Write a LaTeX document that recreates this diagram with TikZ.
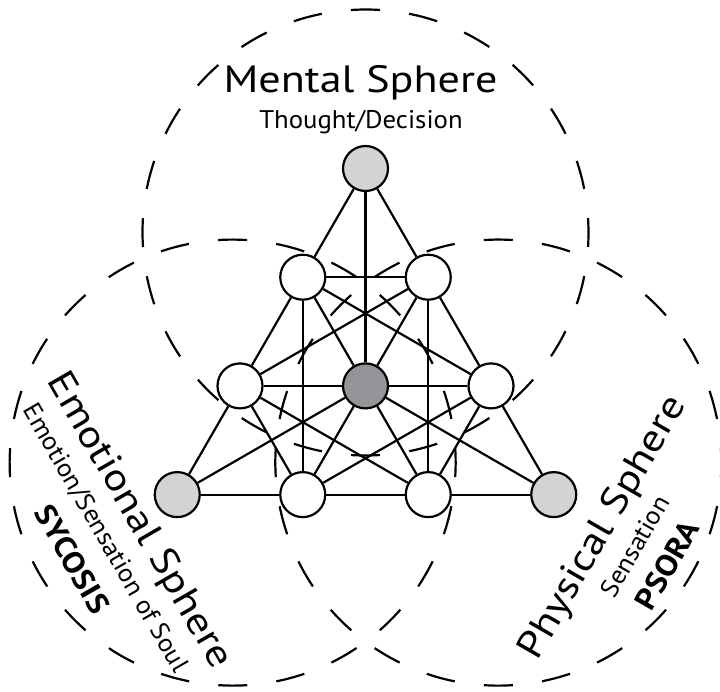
\documentclass[tikz,border=0pt]{standalone}
\usepackage{fontspec}
\newfontfamily\ftitle{PT Sans}[FakeStretch=1.16]
\newfontfamily\fsub{PT Sans}[FakeStretch=1.05]
\newfontfamily\fbold{PT Sans}[FakeStretch=1.1]
\definecolor{ltgray}{HTML}{D1D3D4}
\definecolor{dkgray}{HTML}{939598}
\begin{document}
\begin{tikzpicture}[x=1pt,y=-1pt,
  sphere/.style={line width=2.2pt,dash pattern=on 29pt off 29.38pt},
  nd/.style={circle,draw=black,line width=2.2pt,minimum size=45pt,inner sep=0pt,fill=white},
  ltnd/.style={nd,fill=ltgray},
  dknd/.style={nd,fill=dkgray},
  edge/.style={line width=2.2pt},
  titletxt/.style={font=\ftitle\fontsize{38}{38}\selectfont,inner sep=0pt,anchor=base},
  subtxt/.style={font=\fsub\fontsize{25.5}{25.5}\selectfont,inner sep=0pt,anchor=base},
  boldtxt/.style={font=\fbold\bfseries\fontsize{30}{30}\selectfont,inner sep=0pt,anchor=base}
]
\useasboundingbox (0,0) rectangle (720,691);
\clip (0,0) rectangle (720,691);
% dashed spheres
\draw[sphere] (365.5,232.5) ++(266.275:223) arc[start angle=266.275,delta angle=360,radius=223];
\draw[sphere] (232.65,462.6) ++(146.275:223) arc[start angle=146.275,delta angle=360,radius=223];
\draw[sphere] (498.35,462.6) ++(26.275:223) arc[start angle=26.275,delta angle=360,radius=223];
% nodes
\node[ltnd] (T) at (365.5,168.5) {};
\node[nd] (L2) at (302.75,277.2) {};
\node[nd] (R2) at (428.25,277.2) {};
\node[nd] (ML) at (240,385.9) {};
\node[dknd] (C) at (365.5,385.9) {};
\node[nd] (MR) at (491,385.9) {};
\node[ltnd] (B1) at (177.25,494.6) {};
\node[nd] (B2) at (302.75,494.6) {};
\node[nd] (B3) at (428.25,494.6) {};
\node[ltnd] (B4) at (553.75,494.6) {};
% edges
\draw[edge] (T) -- (L2);
\draw[edge] (T) -- (R2);
\draw[edge] (T) -- (C);
\draw[edge] (L2) -- (R2);
\draw[edge] (L2) -- (ML);
\draw[edge] (L2) -- (C);
\draw[edge] (L2) -- (B2);
\draw[edge] (L2) -- (MR);
\draw[edge] (R2) -- (MR);
\draw[edge] (R2) -- (C);
\draw[edge] (R2) -- (B3);
\draw[edge] (R2) -- (ML);
\draw[edge] (ML) -- (C);
\draw[edge] (C) -- (MR);
\draw[edge] (ML) -- (B1);
\draw[edge] (ML) -- (B2);
\draw[edge] (ML) -- (B3);
\draw[edge] (MR) -- (B4);
\draw[edge] (MR) -- (B3);
\draw[edge] (MR) -- (B2);
\draw[edge] (C) -- (B1);
\draw[edge] (C) -- (B2);
\draw[edge] (C) -- (B3);
\draw[edge] (C) -- (B4);
\draw[edge] (B1) -- (B2);
\draw[edge] (B2) -- (B3);
\draw[edge] (B3) -- (B4);
% labels
\node[titletxt] (mt) at (360.5,92) {Mental Sphere};
\node[subtxt] (ms) at (361,128) {Thought/Decision};
\begin{scope}[shift={(130,526)},rotate=-60,transform shape]
  \node[titletxt] (et) at (0,0) {Emotional Sphere};
  \node[subtxt] (es) at (-2,35) {Emotion/Sensation of Soul};
  \node[boldtxt] (eb) at (0,77) {SYCOSIS};
\end{scope}
\begin{scope}[shift={(612,533)},rotate=60,transform shape]
  \node[titletxt] (pt) at (0,0) {Physical Sphere};
  \node[subtxt] (ps) at (0,35) {Sensation};
  \node[boldtxt] (pb) at (0,74) {PSORA};
\end{scope}
\end{tikzpicture}
\end{document}
